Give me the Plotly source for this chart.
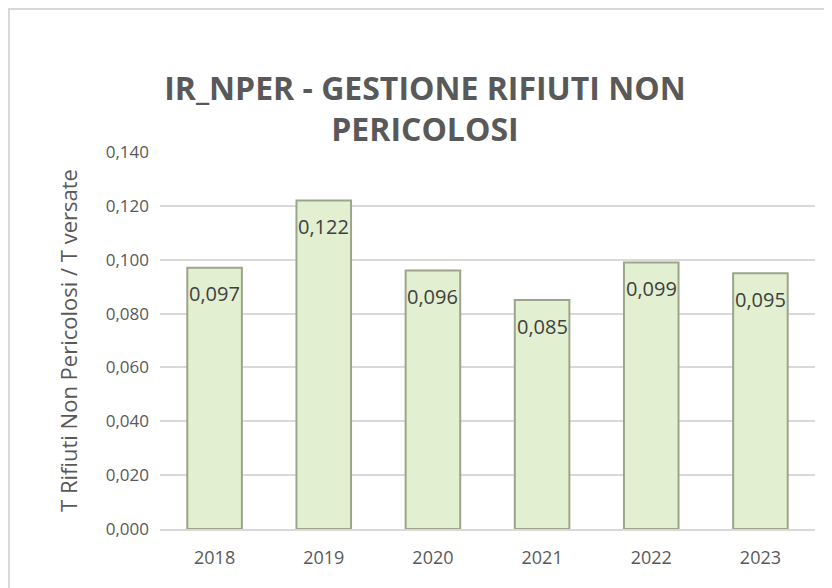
import plotly.graph_objects as go

anni = ['2018', '2019', '2020', '2021', '2022', '2023']
valori = [0.097, 0.122, 0.096, 0.085, 0.099, 0.095]
tick_y = [0.0, 0.02, 0.04, 0.06, 0.08, 0.10, 0.12, 0.14]

font_base = 'Open Sans, sans-serif'

fig = go.Figure()
fig.add_trace(go.Bar(
    x=anni, y=valori,
    width=0.5,
    marker=dict(color='#E2EFD0', line=dict(color='#9CA58C', width=2)),
    hoverinfo='skip',
))

# etichette dati un po' sotto la cima della barra (x = indice della categoria)
for i, v in enumerate(valori):
    fig.add_annotation(
        x=i, y=v, yshift=-26, showarrow=False,
        text=('%.3f' % v).replace('.', ','),
        font=dict(family=font_base, size=20, color='#404040'),
    )

# la pagina html ha un margine di 8px: figura un po' piu' piccola
fig.update_layout(
    width=824, height=580,
    margin=dict(l=152, r=17, t=144, b=59),
    paper_bgcolor='white', plot_bgcolor='white',
    separators=',.',
    showlegend=False,
    title=dict(
        text='<b>IR_NPER - GESTIONE RIFIUTI NON<br>PERICOLOSI</b>',
        x=0.506, xref='container', xanchor='center',
        y=0.842, yanchor='middle',
        font=dict(family=font_base, size=32, color='#595959'),
    ),
    shapes=[dict(
        type='rect', xref='paper', yref='paper',
        x0=-0.2305, x1=1.2, y0=-0.4, y1=1.379,
        line=dict(color='#D9D9D9', width=2),
    )],
)

fig.update_xaxes(
    type='category',
    showgrid=False, showline=True, linecolor='#D9D9D9', linewidth=1.5,
    ticks='', ticklabelstandoff=12,
    tickfont=dict(family=font_base, size=18, color='#595959'),
)
fig.update_yaxes(
    range=[0, 0.14], tickvals=tick_y, tickformat='.3f',
    showgrid=True, gridcolor='#D9D9D9', gridwidth=1.5,
    zeroline=False, ticks='', ticklabelstandoff=10,
    tickfont=dict(family=font_base, size=17, color='#595959'),
    title=dict(text='T Rifiuti Non Pericolosi / T versate', standoff=22,
               font=dict(family=font_base, size=22, color='#595959')),
)

fig.write_html('out.html')
